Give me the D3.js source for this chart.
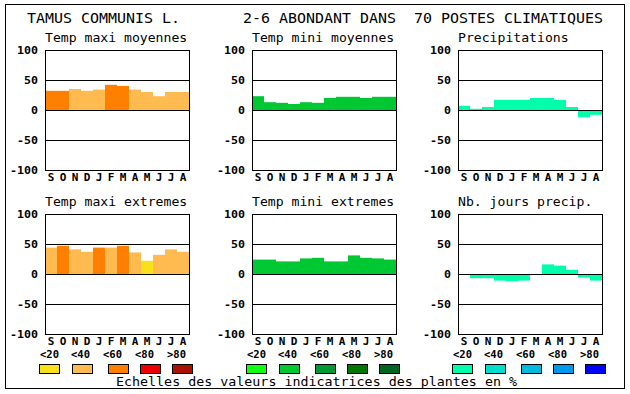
<!DOCTYPE html>
<html><head><meta charset="utf-8">
<script src="https://cdn.jsdelivr.net/npm/d3@7"></script>
<style>body{margin:0;background:#fff}svg{display:block}</style>
</head><body>
<script>
const months = ["S","O","N","D","J","F","M","A","M","J","J","A"];
const yTicks = [100, 50, 0, -50, -100];
const gridVals = [50, 0, -50];

const tmaxMoy    = [32,32,35,32,34,42,40,34,30,23,30,30];
const tmaxMoyCls = [2,2,1,1,1,2,2,1,1,1,1,1];
const tminMoy    = [23,13,12,10,13,12,20,22,22,20,22,22];
const tminMoyCls = [1,1,1,1,1,1,1,1,1,1,1,1];
const precip     = [7,2,5,17,17,17,20,20,17,5,-12,-8];
const precipCls  = [0,0,0,0,0,0,0,0,0,0,0,0];
const tmaxExt    = [44,47,41,37,44,44,47,36,22,32,41,37];
const tmaxExtCls = [1,2,1,1,2,1,2,1,0,1,1,1];
const tminExt    = [24,24,21,21,26,27,21,21,31,27,26,24];
const tminExtCls = [1,1,1,1,1,1,1,1,1,1,1,1];
const nbJours    = [0,-7,-7,-11,-12,-11,0,16,14,7,-6,-11];
const nbJoursCls = [0,0,0,0,0,0,0,0,0,0,0,0];

const warm  = ["#F9E11A","#FFBA50","#FF8000","#EE0000","#AA1100"];
const green = ["#11FF11","#00C832","#009933","#007800","#006622"];
const blue  = ["#00FFAA","#00DDCC","#00BBDD","#0099EE","#0000FF"];
const legendLabels = ["<20","<40","<60","<80",">80"];

const headerParts = ["TAMUS COMMUNIS L.", "2-6 ABONDANT DANS", "70 POSTES CLIMATIQUES"];
const headerCols = [0, 24, 43];
const footer = "Echelles des valeurs indicatrices des plantes en %";

const panels = [
  {title:"Temp maxi moyennes", vals:tmaxMoy, cls:tmaxMoyCls, pal:warm, col:0, row:0},
  {title:"Temp mini moyennes", vals:tminMoy, cls:tminMoyCls, pal:green, col:1, row:0},
  {title:"Precipitations", vals:precip, cls:precipCls, pal:blue, col:2, row:0},
  {title:"Temp maxi extremes", vals:tmaxExt, cls:tmaxExtCls, pal:warm, col:0, row:1},
  {title:"Temp mini extremes", vals:tminExt, cls:tminExtCls, pal:green, col:1, row:1},
  {title:"Nb. jours precip.", vals:nbJours, cls:nbJoursCls, pal:blue, col:2, row:1}
];

const W = 630, H = 394;
const colLeft = [45, 252, 458];
const rowTop = [50, 214];
const pw = 144, ph = 120;
const mono = "'DejaVu Sans Mono', 'Liberation Mono', monospace";

const svg = d3.select("body").append("svg").attr("width", W).attr("height", H);
svg.append("rect").attr("x",5.5).attr("y",4.5).attr("width",619).attr("height",384)
  .attr("fill","none").attr("stroke","#000");

// header
headerParts.forEach((t,i)=>{
  svg.append("text").attr("x", 27 + headerCols[i]*9).attr("y", 23)
    .attr("font-family", mono).attr("font-size", 14.5)
    .attr("textLength", t.length*9).attr("lengthAdjust","spacingAndGlyphs")
    .attr("fill","#000").text(t);
});

panels.forEach(p=>{
  const left = colLeft[p.col], top = rowTop[p.row];
  const x = d3.scaleBand().domain(d3.range(12)).range([left, left+pw]).padding(0);
  const y = d3.scaleLinear().domain([-100,100]).range([top+ph, top]);
  const g = svg.append("g");
  g.append("text").attr("x", left).attr("y", top-8.5)
    .attr("font-family", mono).attr("font-size", 13)
    .attr("textLength", p.title.length*7.9).attr("lengthAdjust","spacingAndGlyphs")
    .text(p.title);
  g.selectAll("rect.bar").data(p.vals.map((v,i)=>({v,i,c:p.cls[i]})).filter(d=>d.v!==0))
    .join("rect").attr("class","bar")
    .attr("x", d=>x(d.i)).attr("width", x.bandwidth())
    .attr("y", d=>y(Math.max(d.v,0))).attr("height", d=>Math.abs(y(d.v)-y(0)))
    .attr("fill", d=>p.pal[d.c]);
  g.selectAll("line.grid").data(gridVals).join("line").attr("class","grid")
    .attr("x1", left).attr("x2", left+pw)
    .attr("y1", d=>Math.round(y(d))+0.5).attr("y2", d=>Math.round(y(d))+0.5)
    .attr("stroke","#000");
  g.append("rect").attr("x", left+0.5).attr("y", top+0.5).attr("width", pw).attr("height", ph)
    .attr("fill","none").attr("stroke","#000");
  g.selectAll("text.yt").data(yTicks).join("text").attr("class","yt")
    .attr("x", left-7).attr("y", d=>y(d)+4)
    .attr("text-anchor","end").attr("font-family", mono).attr("font-weight","bold")
    .attr("font-size", 10)
    .attr("textLength", d=>String(d).length*7).attr("lengthAdjust","spacingAndGlyphs")
    .text(d=>String(d));
  g.selectAll("text.mt").data(months).join("text").attr("class","mt")
    .attr("x", (d,i)=>x(i)+x.bandwidth()/2).attr("y", top+ph+11)
    .attr("text-anchor","middle").attr("font-family", mono).attr("font-weight","bold")
    .attr("font-size", 11).text(d=>d);
});

// legend
const groupStart = [39, 246, 452];
const swOff = [0,33,69,101,133];
const lbOff = [1,32,64,96,128];
[warm, green, blue].forEach((pal, gi)=>{
  const gs = groupStart[gi];
  legendLabels.forEach((l,i)=>{
    svg.append("text").attr("x", gs+lbOff[i]).attr("y", 358)
      .attr("font-family", mono).attr("font-weight","bold").attr("font-size", 10)
      .attr("textLength", 19).attr("lengthAdjust","spacingAndGlyphs").text(l);
    svg.append("rect").attr("x", gs+swOff[i]+0.5).attr("y", 364.5).attr("width", 20).attr("height", 9)
      .attr("fill", pal[i]).attr("stroke","#000");
  });
});

svg.append("text").attr("x", 116).attr("y", 386)
  .attr("font-family", mono).attr("font-size", 13)
  .attr("textLength", footer.length*8.02).attr("lengthAdjust","spacingAndGlyphs")
  .text(footer);
</script>
</body></html>
